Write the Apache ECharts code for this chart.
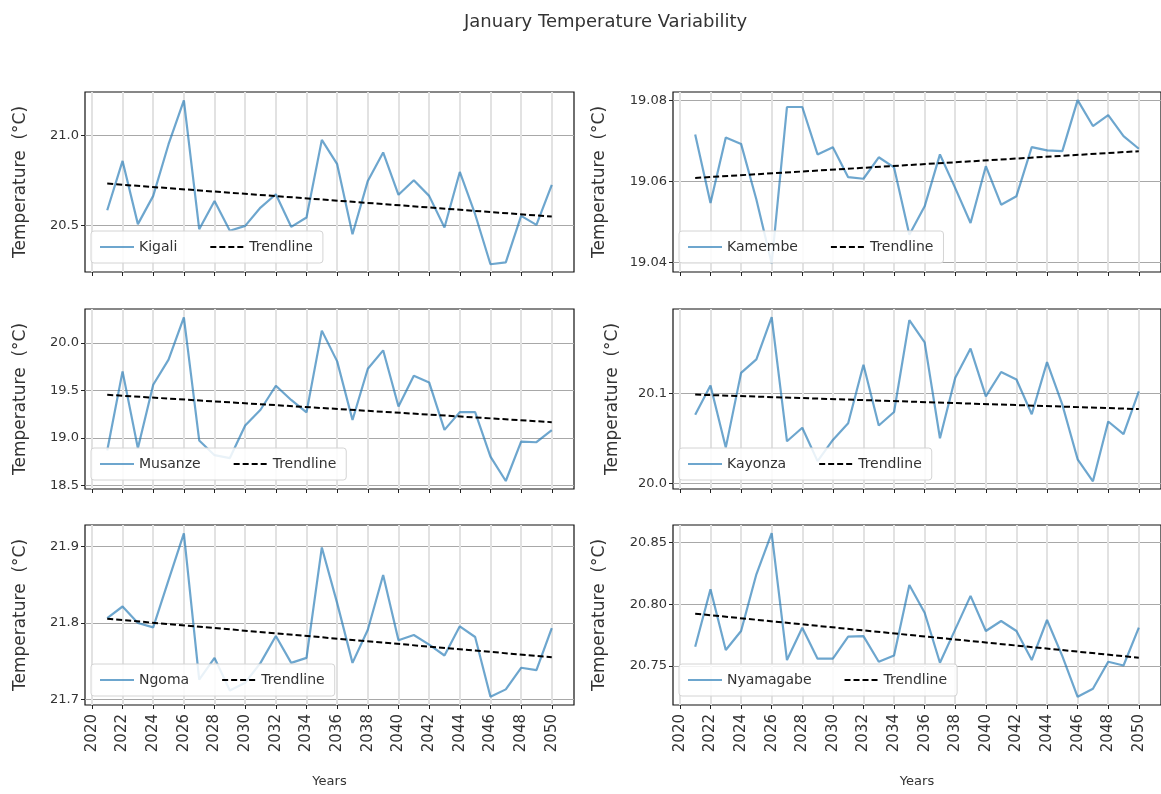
<!DOCTYPE html>
<html>
<head>
<meta charset="utf-8">
<script src="https://cdn.jsdelivr.net/npm/echarts@6/dist/echarts.min.js"></script>
<style>
  html, body { margin: 0; padding: 0; background: #fff; }
  #chart { width: 1161px; height: 794px; }
</style>
</head>
<body>
<div id="chart"></div>
<script>
// yearly January means
var years = [2021, 2022, 2023, 2024, 2025, 2026, 2027, 2028, 2029, 2030,
             2031, 2032, 2033, 2034, 2035, 2036, 2037, 2038, 2039, 2040,
             2041, 2042, 2043, 2044, 2045, 2046, 2047, 2048, 2049, 2050];
var trendYears = [2021, 2050];
var xTicks = [2020, 2022, 2024, 2026, 2028, 2030, 2032, 2034, 2036, 2038,
              2040, 2042, 2044, 2046, 2048, 2050];

var kigali = [20.583, 20.857, 20.506, 20.663, 20.95, 21.194, 20.478, 20.635, 20.469, 20.496,
              20.598, 20.672, 20.491, 20.543, 20.974, 20.839, 20.45, 20.746, 20.904, 20.669,
              20.75, 20.663, 20.487, 20.796, 20.561, 20.283, 20.293, 20.552, 20.502, 20.724];
var kigaliTrend = [20.731, 20.548];
var kigaliTicks = [20.5, 21.0];

var kamembe = [19.0716, 19.0547, 19.0709, 19.0693, 19.0556, 19.0398, 19.0784, 19.0784, 19.0667, 19.0685,
               19.0611, 19.0607, 19.066, 19.0635, 19.0469, 19.0539, 19.0667, 19.0584, 19.0498, 19.0638,
               19.0543, 19.0564, 19.0685, 19.0677, 19.0675, 19.0801, 19.0737, 19.0764, 19.0712, 19.0681];
var kamembeTrend = [19.0609, 19.0675];
var kamembeTicks = [19.04, 19.06, 19.08];

var musanze = [18.87, 19.70, 18.893, 19.56, 19.823, 20.268, 18.975, 18.82, 18.79, 19.132,
               19.297, 19.549, 19.40, 19.27, 20.128, 19.805, 19.19, 19.728, 19.921, 19.332,
               19.654, 19.584, 19.086, 19.272, 19.272, 18.805, 18.549, 18.963, 18.956, 19.082];
var musanzeTrend = [19.454, 19.167];
var musanzeTicks = [18.5, 19.0, 19.5, 20.0];

var kayonza = [20.0765, 20.109, 20.04, 20.123, 20.138, 20.185, 20.047, 20.062, 20.025, 20.0485,
               20.067, 20.132, 20.0645, 20.0795, 20.1817, 20.157, 20.0504, 20.1175, 20.15, 20.097,
               20.124, 20.1157, 20.077, 20.135, 20.0877, 20.027, 20.0026, 20.069, 20.0549, 20.1026];
var kayonzaTrend = [20.0989, 20.0828];
var kayonzaTicks = [20.0, 20.1];

var ngoma = [21.8065, 21.8216, 21.80, 21.7944, 21.856, 21.917, 21.726, 21.7545, 21.712, 21.722,
             21.748, 21.783, 21.748, 21.7545, 21.8987, 21.826, 21.748, 21.7913, 21.8628, 21.7775,
             21.7844, 21.7719, 21.7576, 21.7957, 21.7818, 21.7039, 21.7134, 21.7416, 21.7385, 21.7935];
var ngomaTrend = [21.8056, 21.7554];
var ngomaTicks = [21.7, 21.8, 21.9];

var nyamagabe = [20.7657, 20.8122, 20.763, 20.7784, 20.8243, 20.8576, 20.7549, 20.7811, 20.756, 20.756,
                 20.7738, 20.7743, 20.7535, 20.7586, 20.8157, 20.7932, 20.7527, 20.7797, 20.8068, 20.7784,
                 20.7865, 20.7784, 20.7549, 20.7873, 20.7581, 20.7251, 20.7316, 20.7535, 20.7505, 20.7811];
var nyamagabeTrend = [20.7924, 20.7568];
var nyamagabeTicks = [20.75, 20.80, 20.85];

var FONT = '"DejaVu Sans", sans-serif';
var chart = echarts.init(document.getElementById('chart'));

function pairs(xs, ys) {
    return xs.map(function (x, i) { return [x, ys[i]]; });
}

// col/row in the 2x3 layout, y range as matplotlib would pad it
var panels = [
    { name: 'Kigali', data: kigali, trend: kigaliTrend, ticks: kigaliTicks, min: 20.24, max: 21.24, digits: 1, col: 0, row: 0, gap: 56 },
    { name: 'Kamembe', data: kamembe, trend: kamembeTrend, ticks: kamembeTicks, min: 19.0377, max: 19.0821, digits: 2, col: 1, row: 0, gap: 65 },
    { name: 'Musanze', data: musanze, trend: musanzeTrend, ticks: musanzeTicks, min: 18.465, max: 20.355, digits: 1, col: 0, row: 1, gap: 56 },
    { name: 'Kayonza', data: kayonza, trend: kayonzaTrend, ticks: kayonzaTicks, min: 19.994, max: 20.194, digits: 1, col: 1, row: 1, gap: 52 },
    { name: 'Ngoma', data: ngoma, trend: ngomaTrend, ticks: ngomaTicks, min: 21.693, max: 21.928, digits: 1, col: 0, row: 2, gap: 56 },
    { name: 'Nyamagabe', data: nyamagabe, trend: nyamagabeTrend, ticks: nyamagabeTicks, min: 20.7185, max: 20.8642, digits: 2, col: 1, row: 2, gap: 65 }
];

var colLeft = [85, 673];
var rowTop = [92, 309, 525];
var plotW = 489, plotH = 180;

var grids = [], xAxes = [], yAxes = [], series = [], legends = [];

panels.forEach(function (p, i) {
    var left = colLeft[p.col], top = rowTop[p.row];
    var bottomRow = p.row === 2;

    grids.push({
        left: left, top: top, width: plotW, height: plotH,
        show: true, borderColor: '#111', borderWidth: 1.2, backgroundColor: '#fff'
    });

    xAxes.push({
        type: 'value', gridIndex: i, min: 2019.55, max: 2051.45,
        axisLine: { show: false },
        axisTick: { show: true, customValues: xTicks, length: 4, lineStyle: { color: '#222' } },
        axisLabel: {
            show: bottomRow, customValues: xTicks, rotate: 90, margin: 9,
            fontSize: 15, color: '#333', fontFamily: FONT,
            formatter: function (v) { return String(v); }
        },
        splitLine: { show: true, lineStyle: { color: '#e2e2e2', width: 2 } },
        name: bottomRow ? 'Years' : '', nameLocation: 'middle', nameGap: 70,
        nameTextStyle: { fontSize: 13, color: '#333', fontFamily: FONT }
    });

    yAxes.push({
        type: 'value', gridIndex: i, min: p.min, max: p.max,
        axisLine: { show: false },
        axisTick: { show: true, customValues: p.ticks, length: 4, lineStyle: { color: '#222' } },
        axisLabel: {
            customValues: p.ticks, fontSize: 13, color: '#333', fontFamily: FONT, margin: 6,
            formatter: (function (d) { return function (v) { return v.toFixed(d); }; })(p.digits)
        },
        splitLine: { show: true, lineStyle: { color: '#a8a8a8', width: 1 } },
        name: 'Temperature  (°C)', nameLocation: 'middle', nameRotate: 90, nameGap: p.gap,
        nameTextStyle: { fontSize: 17, color: '#333', fontFamily: FONT }
    });

    series.push({
        name: p.name, type: 'line', xAxisIndex: i, yAxisIndex: i,
        symbol: 'none', showSymbol: false, animation: false,
        lineStyle: { color: '#1f77b4', width: 2.2, opacity: 0.65 },
        itemStyle: { color: '#1f77b4' },
        data: pairs(years, p.data)
    });
    series.push({
        name: 'Trendline', type: 'line', xAxisIndex: i, yAxisIndex: i,
        symbol: 'none', showSymbol: false, animation: false, z: 3,
        lineStyle: { color: '#000', width: 2, type: [6, 3] },
        itemStyle: { color: '#000' },
        data: pairs(trendYears, p.trend)
    });

    legends.push({
        left: left + 6, top: top + plotH - 41,
        itemWidth: 34, itemHeight: 14, itemGap: 32,
        itemStyle: { color: 'rgba(0,0,0,0)', borderWidth: 0, opacity: 0 },
        backgroundColor: 'rgba(255,255,255,0.85)',
        borderColor: '#d4d4d4', borderWidth: 1, borderRadius: 3,
        padding: [9, 10, 9, 8],
        textStyle: { fontSize: 14, color: '#333', fontFamily: FONT },
        data: [p.name, 'Trendline']
    });
});

var option = {
    backgroundColor: '#fff',
    animation: false,
    title: {
        text: 'January Temperature Variability',
        left: 459, top: 8,
        textStyle: { fontSize: 18, fontWeight: 'normal', color: '#333', fontFamily: FONT }
    },
    legend: legends,
    grid: grids,
    xAxis: xAxes,
    yAxis: yAxes,
    series: series
};

chart.setOption(option);
</script>
</body>
</html>
